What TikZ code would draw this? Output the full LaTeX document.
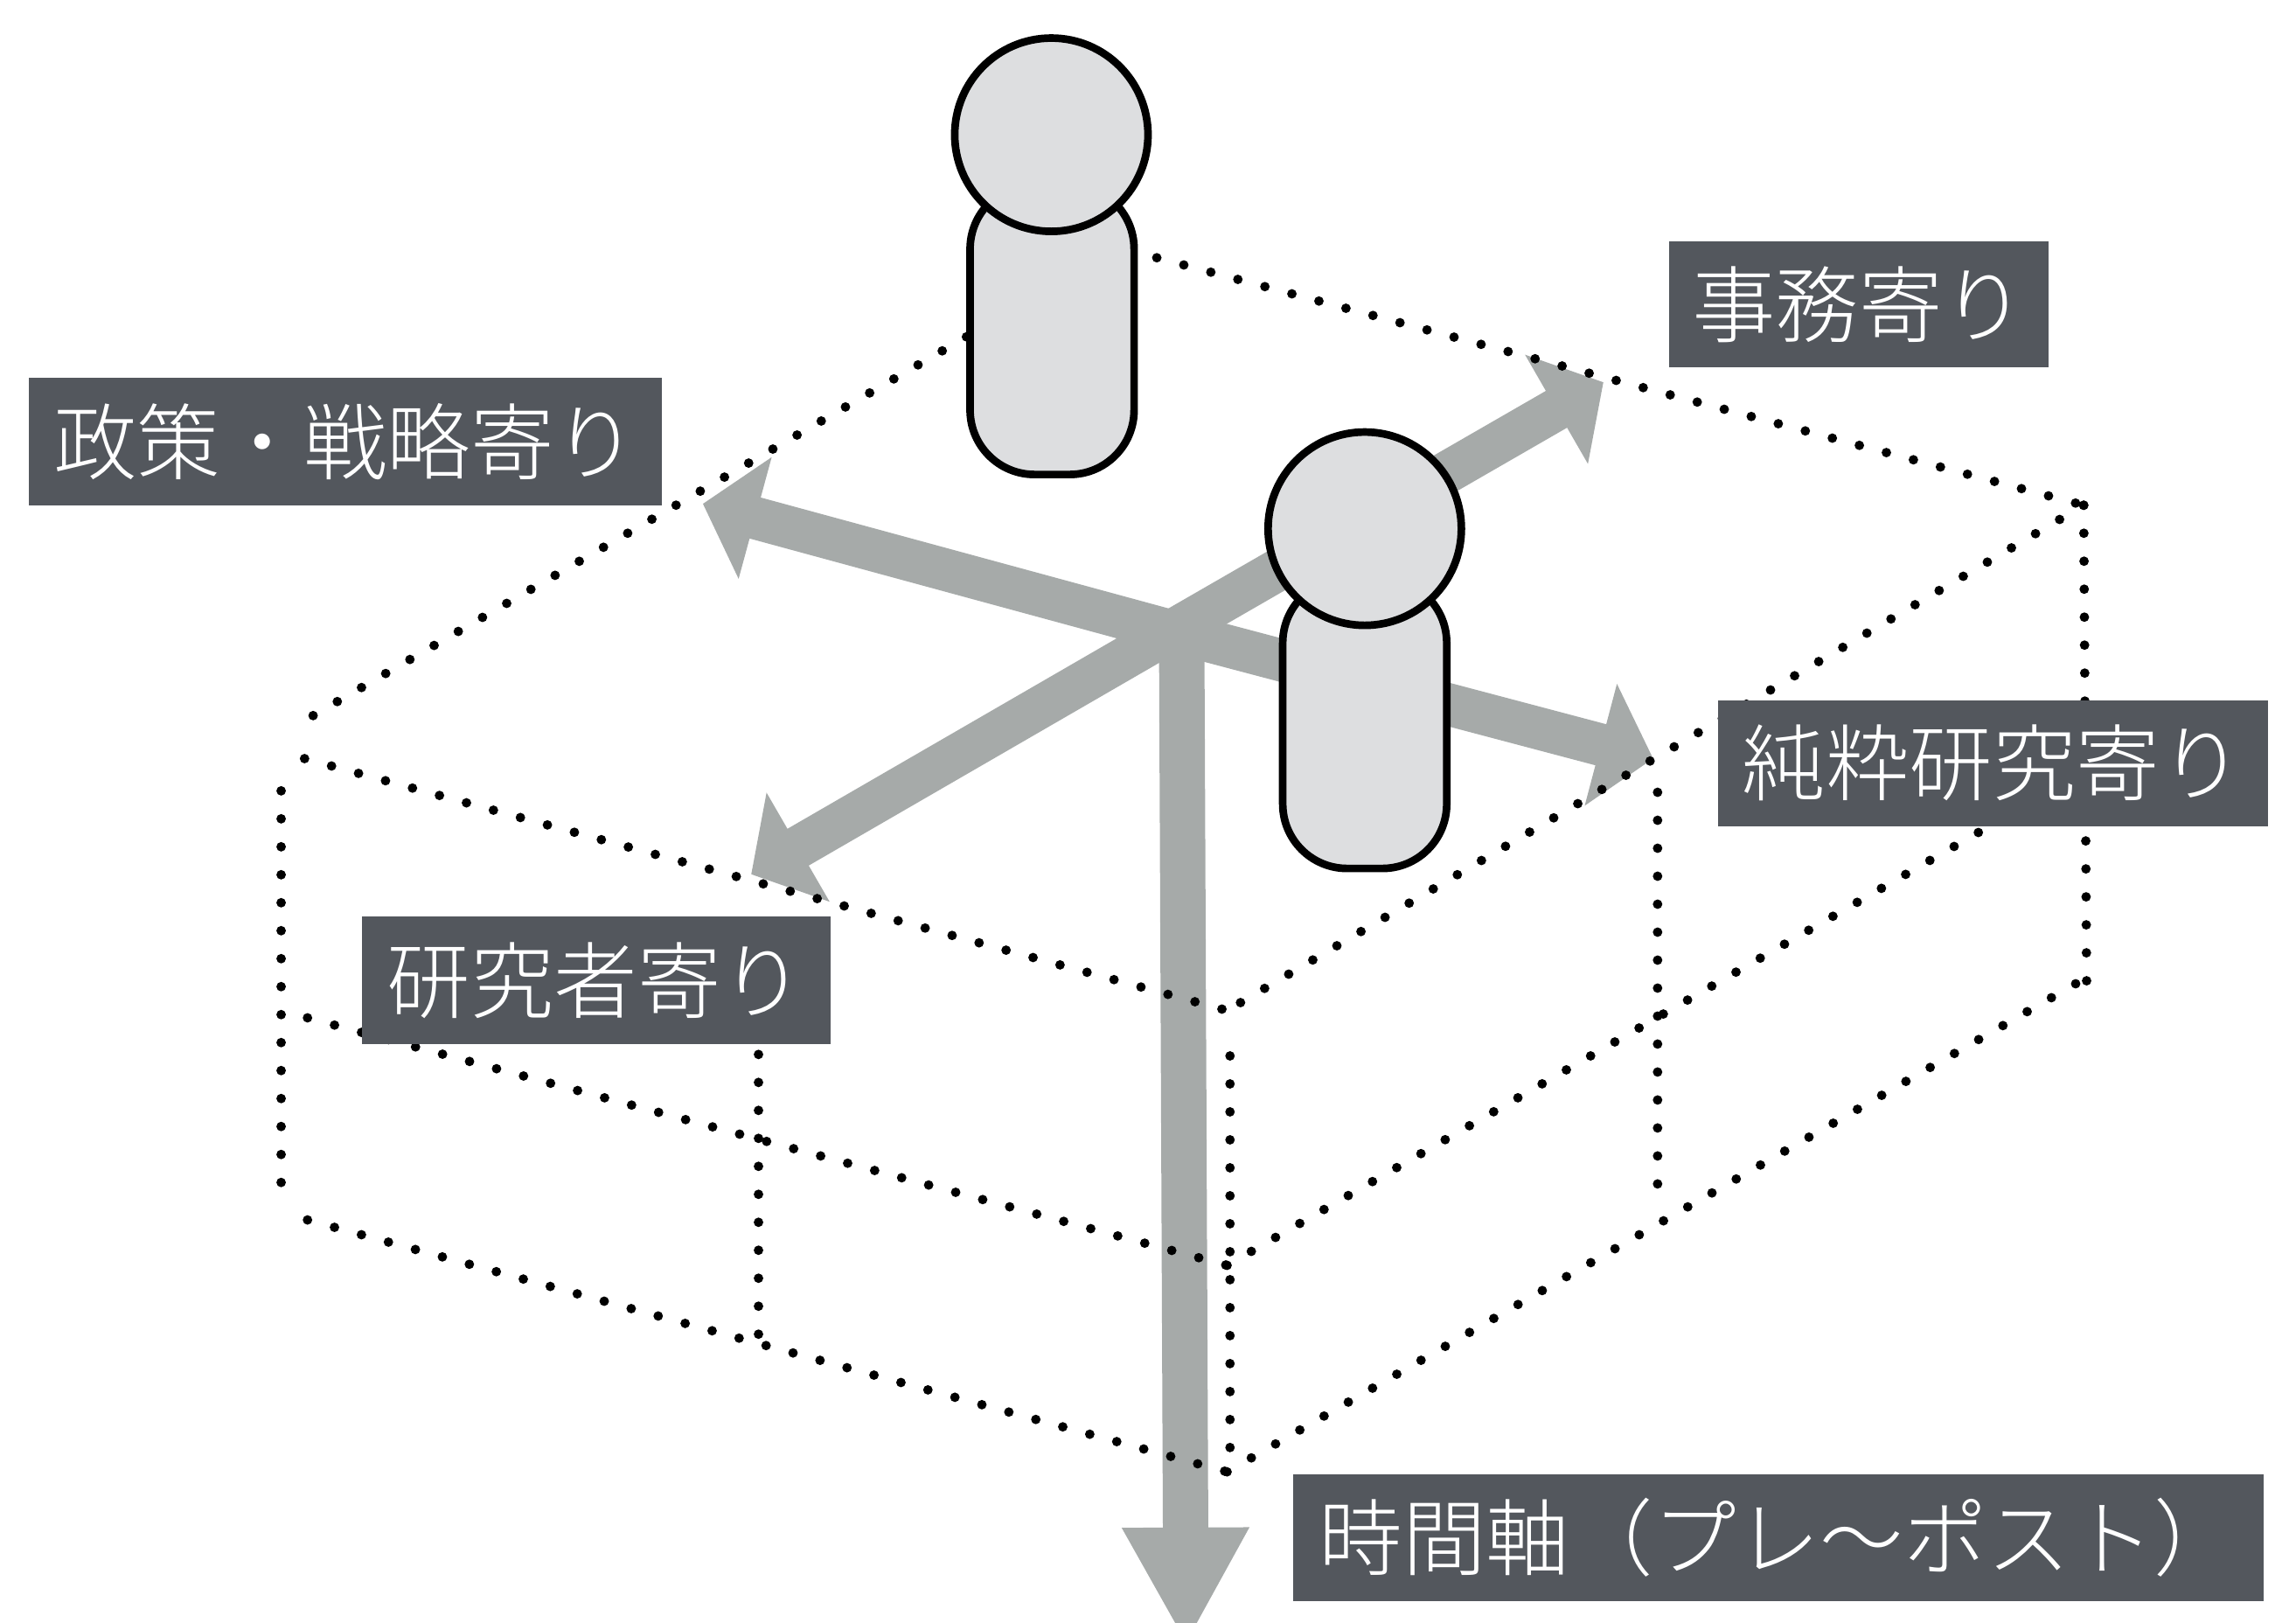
\documentclass[tikz,border=0pt]{standalone}
\usepackage{fontspec}
\usetikzlibrary{arrows.meta,shadows}
\newfontfamily\cjk{Noto Sans CJK JP Light}
\definecolor{axisgray}{HTML}{A6AAA9}
\definecolor{labelgray}{HTML}{53575D}
\definecolor{persongray}{HTML}{DDDEE0}
\tikzset{
  axisline/.style={draw=axisgray,line width=29pt,-{Triangle[length=37pt,width=84pt]}},
  timeline/.style={draw=axisgray,line width=31pt,-{Triangle[length=80pt,width=81pt]}},
  dotline/.style={draw=black,line width=6.5pt,line cap=round,dash pattern=on 0pt off 19.1pt},
  labelbox/.style={fill=labelgray,text=white,inner sep=0pt,font=\cjk\fontsize{57}{61}\selectfont},
  personpart/.style={draw=black,line width=5.2pt,fill=persongray,drop shadow={shadow xshift=0pt,shadow yshift=-2pt,opacity=.25}},
  bodyshape/.style={personpart,rectangle,rounded corners=44pt,minimum width=112pt,inner sep=0pt},
  headshape/.style={personpart,circle,minimum size=132pt,inner sep=0pt},
}
\begin{document}
\begin{tikzpicture}[x=1pt,y=-1pt]
\useasboundingbox (0,0) rectangle (1568,1108);
% axes
\coordinate (hub) at (800,431);
\coordinate (hubv) at (807,436);
\coordinate (tipNE) at (1095,261);
\coordinate (tipNW) at (480,344);
\coordinate (tipE) at (1129,518);
\coordinate (tipSW) at (513,597);
\coordinate (tipS) at (810,1123);
\draw[axisline] (hub) -- (tipNE);
\draw[axisline] (hub) -- (tipNW);
\draw[axisline] (hub) -- (tipE);
\draw[axisline] (hub) -- (tipSW);
\draw[timeline] (hubv) -- (tipS);
% dotted box
\coordinate (tl) at (660,230);
\coordinate (l1) at (208,492);
\coordinate (tr) at (790,176);
\coordinate (r) at (1423,345);
\coordinate (f) at (838,690);
\coordinate (l2) at (208,518);
\coordinate (lv1) at (192,540);
\coordinate (lv2) at (192,811);
\coordinate (l3) at (210,695);
\coordinate (f2) at (838,864);
\coordinate (l4) at (210,833);
\coordinate (f3) at (838,1005);
\coordinate (fv1) at (840,721);
\coordinate (fv2) at (840,1000);
\coordinate (r2) at (1423,527);
\coordinate (r3) at (1424,668);
\coordinate (rv2) at (1425,672);
\coordinate (mv1) at (1132,541);
\coordinate (mv2) at (1132,812);
\coordinate (nv1) at (518,720);
\coordinate (nv2) at (518,915);
\draw[dotline] (tl) -- (l1);
\draw[dotline] (tr) -- (r);
\draw[dotline] (r) -- (f);
\draw[dotline] (l2) -- (f);
\draw[dotline] (lv1) -- (lv2);
\draw[dotline] (l3) -- (f2);
\draw[dotline] (l4) -- (f3);
\draw[dotline] (fv1) -- (fv2);
\draw[dotline] (f2) -- (r2);
\draw[dotline] (f3) -- (r3);
\draw[dotline] (r) -- (rv2);
\draw[dotline] (mv1) -- (mv2);
\draw[dotline] (nv1) -- (nv2);
% persons
\node[bodyshape,minimum height=198pt] (bodyA) at (718.5,225) {};
\node[headshape] (headA) at (718,92) {};
\node[bodyshape,minimum height=198pt] (bodyB) at (932,494) {};
\node[headshape] (headB) at (932,361) {};
% labels
\node[labelbox,minimum width=259pt,minimum height=86pt] (labNE) at (1269.5,208) {事務寄り};
\node[labelbox,minimum width=432pt,minimum height=87pt] (labNW) at (236,301.5) {政策・戦略寄り};
\node[labelbox,minimum width=376pt,minimum height=86pt] (labE) at (1361,521) {純粋研究寄り};
\node[labelbox,minimum width=320pt,minimum height=87pt] (labSW) at (407,669.5) {研究者寄り};
\node[labelbox,minimum width=663pt,minimum height=86pt] (labS) at (1214.5,1050) {時間軸（プレ〜ポスト）};
\end{tikzpicture}
\end{document}
